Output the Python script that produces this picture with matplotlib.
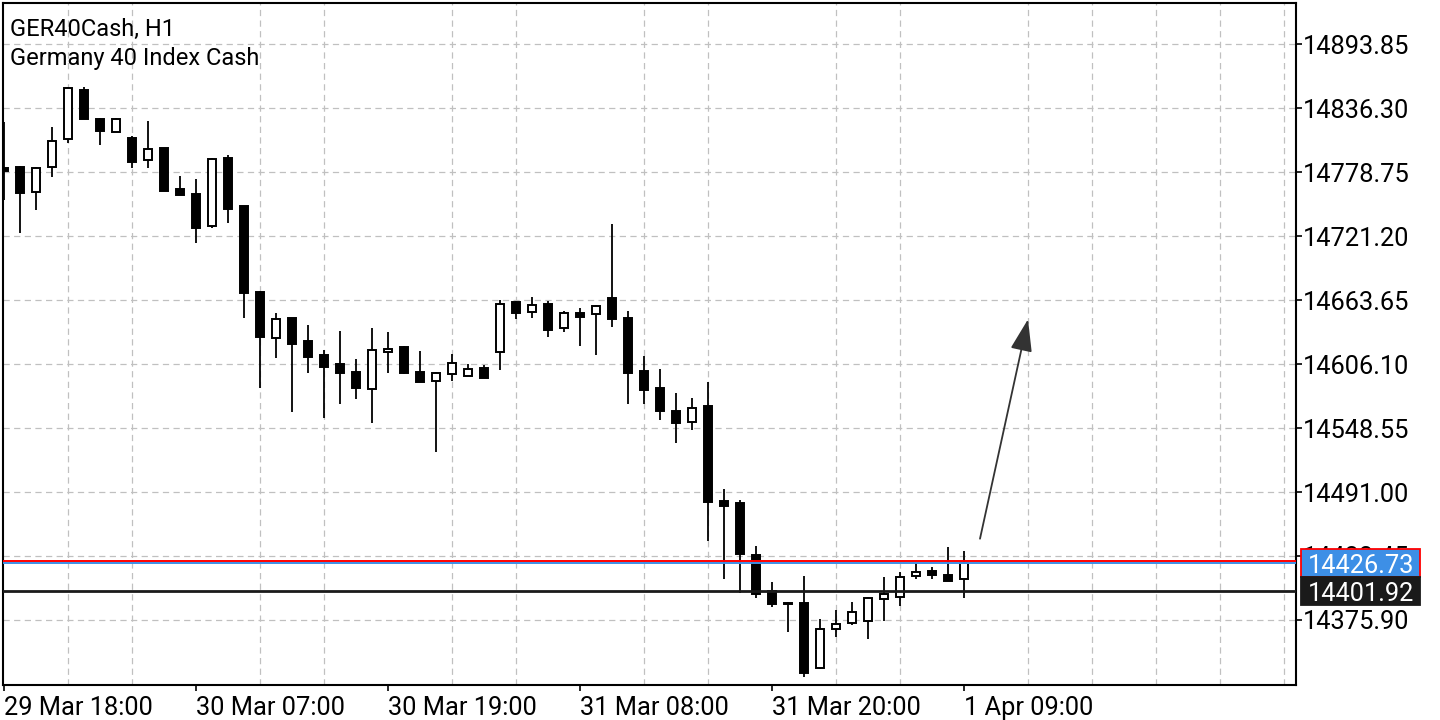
import matplotlib
matplotlib.use('Agg')
import matplotlib.pyplot as plt
from matplotlib.patches import Rectangle
from matplotlib.transforms import IdentityTransform
from matplotlib.ticker import FixedLocator, MultipleLocator

# hourly candles, GER40Cash H1, 29 Mar 18:00 .. 1 Apr 09:00
opens = [14782.4, 14783.3, 14760.5, 14782.9, 14808.2, 14852.5, 14826.1, 14814.7, 14809.1, 14789.5,
         14800.1, 14763.5, 14759.0, 14730.2, 14791.1, 14748.2, 14671.1, 14629.8, 14647.2, 14626.8,
         14614.2, 14606.1, 14598.7, 14583.6, 14616.6, 14621.4, 14598.7, 14590.6, 14597.1, 14595.3,
         14602.2, 14616.6, 14661.6, 14652.6, 14659.8, 14638.5, 14651.7, 14650.8, 14665.2, 14647.2,
         14599.8, 14584.5, 14563.9, 14553.7, 14568.3, 14482.9, 14481.1, 14434.4, 14402.0, 14391.5,
         14391.2, 14332.5, 14367.8, 14373.0, 14375.0, 14394.5, 14396.3, 14415.5, 14420.3, 14416.4,
         14412.5]
highs = [14823.7, 14783.7, 14783.5, 14819.5, 14855.6, 14854.9, 14827.0, 14827.0, 14811.1, 14824.6,
         14800.6, 14775.2, 14772.5, 14790.9, 14793.8, 14748.6, 14671.6, 14651.7, 14647.6, 14641.2,
         14618.7, 14635.8, 14610.3, 14638.5, 14634.9, 14622.3, 14617.8, 14598.6, 14615.1, 14606.1,
         14605.2, 14663.7, 14662.8, 14666.1, 14662.8, 14653.8, 14656.2, 14659.2, 14732.0, 14653.8,
         14613.3, 14601.6, 14580.0, 14575.5, 14589.9, 14493.7, 14483.8, 14442.5, 14410.1, 14391.8,
         14415.5, 14376.5, 14384.9, 14392.4, 14396.3, 14414.3, 14418.8, 14427.4, 14423.3, 14441.3,
         14438.0]
lows = [14753.6, 14723.9, 14744.6, 14774.0, 14805.1, 14826.7, 14803.0, 14814.7, 14782.1, 14782.1,
        14761.5, 14758.0, 14715.2, 14728.1, 14733.2, 14647.2, 14584.3, 14611.2, 14562.7, 14597.8,
        14557.8, 14569.9, 14574.4, 14553.3, 14597.8, 14596.9, 14589.9, 14527.3, 14591.1, 14595.0,
        14593.5, 14600.7, 14646.3, 14647.7, 14630.7, 14635.2, 14622.6, 14614.2, 14639.7, 14569.7,
        14570.1, 14556.0, 14535.3, 14547.0, 14447.2, 14413.1, 14399.9, 14395.4, 14387.3, 14365.4,
        14324.4, 14331.6, 14360.4, 14371.4, 14359.1, 14375.3, 14388.5, 14413.1, 14413.1, 14411.0,
        14395.4]
closes = [14779.7, 14759.6, 14782.6, 14806.9, 14854.6, 14826.7, 14815.4, 14826.1, 14788.0, 14799.2,
          14761.9, 14758.3, 14728.7, 14790.2, 14745.2, 14670.2, 14630.1, 14646.3, 14623.8, 14612.0,
          14603.7, 14597.8, 14584.3, 14619.0, 14619.9, 14598.3, 14590.2, 14598.3, 14607.3, 14601.4,
          14593.8, 14659.8, 14651.7, 14659.4, 14637.0, 14652.2, 14648.6, 14658.0, 14646.3, 14598.3,
          14583.0, 14564.1, 14553.3, 14566.3, 14482.3, 14478.7, 14435.3, 14399.3, 14390.6, 14390.0,
          14328.5, 14367.6, 14372.6, 14382.8, 14396.0, 14399.0, 14414.9, 14419.4, 14416.4, 14411.3,
          14426.73]

time_ticks = [0, 12, 24, 36, 48, 60]
time_labels = ['29 Mar 18:00', '30 Mar 07:00', '30 Mar 19:00', '31 Mar 08:00', '31 Mar 20:00', '1 Apr 09:00']
price_ticks = [14375.90, 14433.45, 14491.00, 14548.55, 14606.10, 14663.65, 14721.20, 14778.75, 14836.30, 14893.85]

bid = 14426.73
ask = 14428.9
level = 14401.92
arrow_from = (61.0, 14449.0)
arrow_to = (64.0, 14646.3)

plt.rcParams['font.family'] = ['Roboto', 'DejaVu Sans']
FS = 18.3

fig = plt.figure(figsize=(14.4, 7.2), dpi=100)
ax = fig.add_axes([3 / 1440, 35 / 720, 1293 / 1440, 682 / 720])
ax.set_xlim(-0.0625, 80.75)
ax.set_ylim(14317.45, 14930.72)

x = list(range(len(opens)))
ax.vlines(x, lows, highs, color='black', lw=1.3, zorder=2)
bottoms = [min(o, c) for o, c in zip(opens, closes)]
heights = [max(abs(c - o), 0.3) for o, c in zip(opens, closes)]
faces = ['white' if c > o else 'black' for o, c in zip(opens, closes)]
ax.bar(x, heights, bottom=bottoms, width=0.5, color=faces, edgecolor='black', lw=1.4, zorder=3)

ax.axhline(bid, color='#3d8fe6', lw=1.4, zorder=4)
ax.axhline(ask, color='#ff0000', lw=1.4, zorder=4)
ax.axhline(level, color='#1a1a1a', lw=2, zorder=4)

ax.annotate('', xy=arrow_to, xytext=arrow_from,
            arrowprops=dict(arrowstyle='-|>,head_length=1.0,head_width=0.34', mutation_scale=20,
                            color='#333333', lw=1.3, shrinkA=0, shrinkB=0), zorder=5)

# grid + ticks
ax.xaxis.set_major_locator(FixedLocator(time_ticks))
ax.set_xticklabels(time_labels, ha='left')
ax.xaxis.set_minor_locator(MultipleLocator(4))
ax.yaxis.set_major_locator(FixedLocator(price_ticks))
ax.set_yticklabels([f'{p:.2f}' for p in price_ticks])
ax.yaxis.tick_right()
ax.tick_params(axis='y', which='major', direction='out', length=4, width=1.2, pad=1, labelsize=FS)
ax.tick_params(axis='x', which='major', direction='out', length=4, width=1.2, pad=4, labelsize=FS)
ax.tick_params(axis='x', which='minor', length=0)
gl = dict(color='#c0c0c0', lw=0.9, ls=(0, (5, 3.5)))
ax.grid(True, axis='y', which='major', **gl)
ax.grid(True, axis='x', which='minor', **gl)
ax.set_axisbelow(True)
for s in ax.spines.values():
    s.set_linewidth(1.5)

fig.text(10, 720 - 36, 'GER40Cash, H1', transform=IdentityTransform(), fontsize=17, va='baseline')
fig.text(10, 720 - 65, 'Germany 40 Index Cash', transform=IdentityTransform(), fontsize=17, va='baseline')

# price tags on the right axis
fig.canvas.draw()
def tag(price, face, edge, txt):
    _, py = ax.transData.transform((0, price))
    fig.add_artist(Rectangle((1301, py - 14), 119, 28, transform=IdentityTransform(),
                             facecolor=face, edgecolor=edge, lw=1.3, zorder=5))
    fig.text(1308, py, txt, transform=IdentityTransform(), color='white', fontsize=FS,
             va='center_baseline', ha='left', zorder=6)

tag(bid, '#3d8fe6', '#ff0000', f'{bid:.2f}')
tag(level, '#1a1a1a', '#1a1a1a', f'{level:.2f}')

fig.savefig('out.png', dpi=100)
